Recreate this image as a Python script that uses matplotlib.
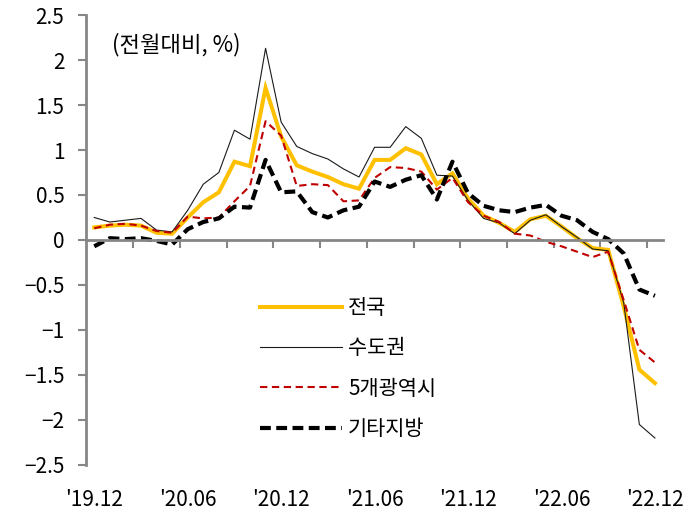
import matplotlib
matplotlib.use("Agg")
import matplotlib.pyplot as plt
import numpy as np

plt.rcParams['font.family'] = ['Noto Sans CJK KR', 'DejaVu Sans']

# monthly change, Dec 2019 .. Dec 2022
months = ["'19.12", "'20.01", "'20.02", "'20.03", "'20.04", "'20.05", "'20.06",
          "'20.07", "'20.08", "'20.09", "'20.10", "'20.11", "'20.12",
          "'21.01", "'21.02", "'21.03", "'21.04", "'21.05", "'21.06",
          "'21.07", "'21.08", "'21.09", "'21.10", "'21.11", "'21.12",
          "'22.01", "'22.02", "'22.03", "'22.04", "'22.05", "'22.06",
          "'22.07", "'22.08", "'22.09", "'22.10", "'22.11", "'22.12"]

nationwide = [0.14, 0.16, 0.17, 0.16, 0.08, 0.07, 0.25, 0.42, 0.53, 0.87, 0.82, 1.69, 1.15,
              0.83, 0.76, 0.70, 0.62, 0.57, 0.89, 0.89, 1.02, 0.95, 0.62, 0.74, 0.46,
              0.27, 0.19, 0.09, 0.23, 0.27, 0.15, 0.02, -0.09, -0.11, -0.74, -1.44, -1.59]
capital = [0.25, 0.20, 0.22, 0.24, 0.11, 0.09, 0.33, 0.62, 0.75, 1.22, 1.12, 2.13, 1.31,
           1.04, 0.96, 0.90, 0.79, 0.70, 1.03, 1.03, 1.26, 1.13, 0.72, 0.71, 0.44,
           0.24, 0.19, 0.07, 0.22, 0.28, 0.15, 0.03, -0.10, -0.12, -0.70, -2.05, -2.20]
metro5 = [0.13, 0.17, 0.18, 0.16, 0.10, 0.08, 0.26, 0.24, 0.25, 0.43, 0.60, 1.32, 1.16,
          0.60, 0.62, 0.61, 0.43, 0.44, 0.69, 0.81, 0.80, 0.76, 0.56, 0.69, 0.42,
          0.27, 0.20, 0.07, 0.05, -0.02, -0.07, -0.13, -0.19, -0.13, -0.67, -1.22, -1.36]
others = [-0.07, 0.02, 0.01, 0.02, -0.01, -0.05, 0.12, 0.20, 0.24, 0.37, 0.36, 0.89, 0.53,
          0.54, 0.31, 0.25, 0.33, 0.37, 0.65, 0.59, 0.67, 0.72, 0.45, 0.87, 0.52,
          0.38, 0.33, 0.31, 0.36, 0.39, 0.27, 0.22, 0.09, 0.01, -0.15, -0.55, -0.62]

names = ["전국", "수도권", "5개광역시", "기타지방"]
yticks = [2.5, 2, 1.5, 1, 0.5, 0, -0.5, -1, -1.5, -2, -2.5]

axis_gray = "#868686"
x = np.arange(len(months))

fig = plt.figure(figsize=(6.94, 5.21), dpi=100)
ax = fig.add_axes([0.1246, 0.1075, 0.8303, 0.8637])

ax.plot(x, nationwide, color="#FFC000", lw=2.9, label=names[0], solid_joinstyle="miter")
ax.plot(x, capital, color="#1a1a1a", lw=0.8, label=names[1])
ax.plot(x, metro5, color="#C00000", lw=1.5, ls=(0, (3.5, 2.2)), label=names[2])
ax.plot(x, others, color="black", lw=3.0, ls=(0, (2.6, 1.3)), label=names[3])

ax.set_xlim(-0.5, len(months) - 0.5)
ax.set_ylim(-2.5, 2.5)

# spines: left gray, bottom at zero
for s in ["top", "right"]:
    ax.spines[s].set_visible(False)
ax.spines["left"].set_color(axis_gray)
ax.spines["left"].set_linewidth(2)
ax.spines["bottom"].set_position(("data", 0))
ax.spines["bottom"].set_color(axis_gray)
ax.spines["bottom"].set_linewidth(2)

ax.set_yticks(yticks)
ax.set_yticklabels([f"{v:g}".replace("-", "\u2212") for v in yticks])
ax.tick_params(axis="y", direction="out", length=6, width=1.5, color=axis_gray,
               labelsize=15, pad=10)

# tick marks between every 3 months on the zero line
ax.set_xticks(np.arange(2.5, len(months) - 0.5, 3))
ax.set_xticklabels([])
ax.tick_params(axis="x", direction="out", length=6, width=1.5, color=axis_gray)

# date labels at the bottom of the plot
sec = ax.secondary_xaxis("bottom")
sec.set_xticks(x[::6])
sec.set_xticklabels(months[::6])
sec.tick_params(length=0, labelsize=15, pad=17)
sec.spines["bottom"].set_visible(False)

ax.text(0.045, 0.935, "(전월대비, %)", transform=ax.transAxes, fontsize=16,
        va="center", ha="left")

ax.legend(loc="upper left", bbox_to_anchor=(0.268, 0.415), frameon=False,
          fontsize=15, handlelength=3.95, labelspacing=0.88, handletextpad=0.3)

fig.savefig("out.png", dpi=100)
